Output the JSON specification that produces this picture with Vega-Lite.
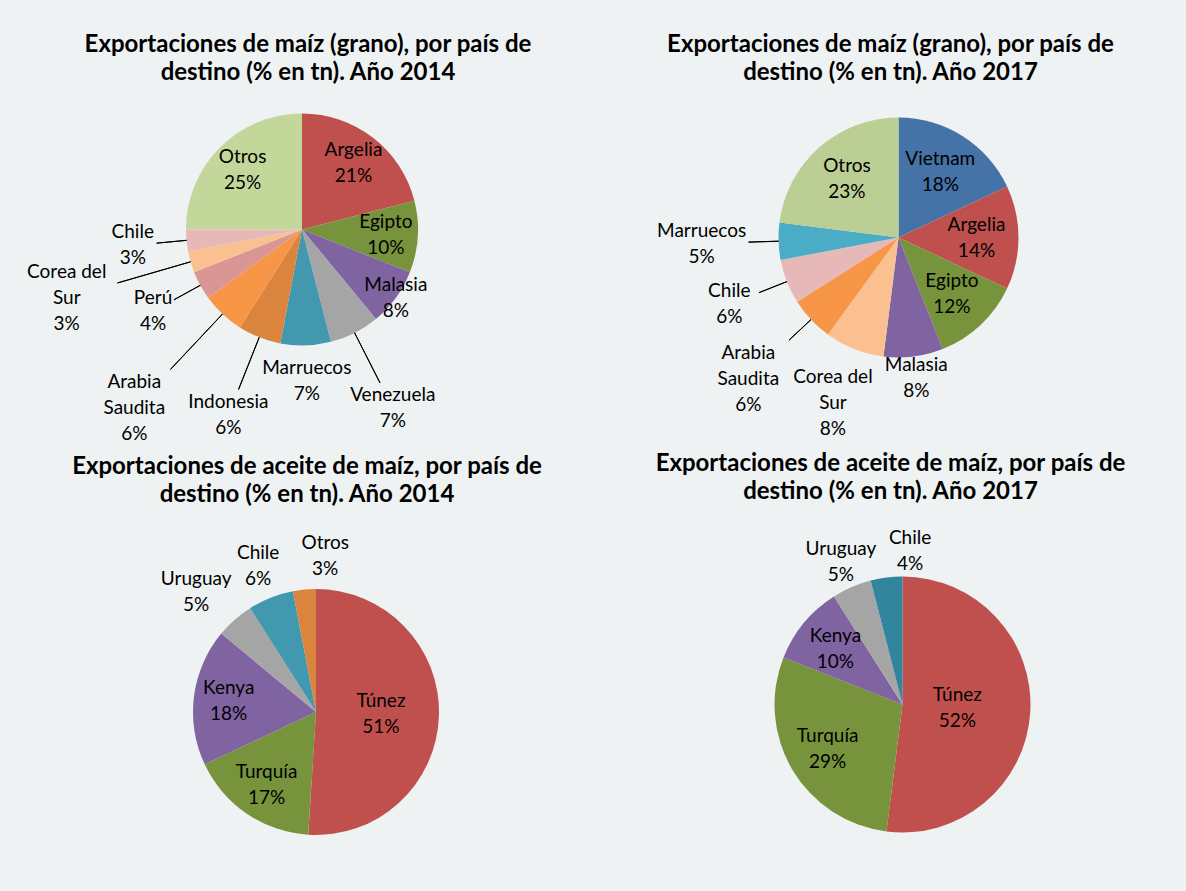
{
  "$schema": "https://vega.github.io/schema/vega-lite/v6.json",
  "background": "#EEF2F3",
  "padding": {"left": 6, "top": 33, "right": 7, "bottom": 15},
  "bounds": "flush",
  "columns": 2,
  "spacing": {"row": 158, "column": 0},
  "config": {"view": {"stroke": null}, "text": {"font": "Lato", "fontSize": 19, "lineHeight": 26, "lineBreak": "\n", "align": "center", "baseline": "middle", "color": "#000"}},
  "resolve": {"scale": {"color": "independent", "theta": "independent"}},
  "datasets": {
    "g14": [
      {"pais": "Argelia", "pct": 21},
      {"pais": "Egipto", "pct": 10},
      {"pais": "Malasia", "pct": 8},
      {"pais": "Venezuela", "pct": 7},
      {"pais": "Marruecos", "pct": 7},
      {"pais": "Indonesia", "pct": 6},
      {"pais": "Arabia Saudita", "pct": 6},
      {"pais": "Perú", "pct": 4},
      {"pais": "Corea del Sur", "pct": 3},
      {"pais": "Chile", "pct": 3},
      {"pais": "Otros", "pct": 25}
    ],
    "g17": [
      {"pais": "Vietnam", "pct": 18},
      {"pais": "Argelia", "pct": 14},
      {"pais": "Egipto", "pct": 12},
      {"pais": "Malasia", "pct": 8},
      {"pais": "Corea del Sur", "pct": 8},
      {"pais": "Arabia Saudita", "pct": 6},
      {"pais": "Chile", "pct": 6},
      {"pais": "Marruecos", "pct": 5},
      {"pais": "Otros", "pct": 23}
    ],
    "a14": [
      {"pais": "Túnez", "pct": 51},
      {"pais": "Turquía", "pct": 17},
      {"pais": "Kenya", "pct": 18},
      {"pais": "Uruguay", "pct": 5},
      {"pais": "Chile", "pct": 6},
      {"pais": "Otros", "pct": 3}
    ],
    "a17": [
      {"pais": "Túnez", "pct": 52},
      {"pais": "Turquía", "pct": 29},
      {"pais": "Kenya", "pct": 10},
      {"pais": "Uruguay", "pct": 5},
      {"pais": "Chile", "pct": 4}
    ]
  },
  "concat": [
    {
      "title": {"text": ["Exportaciones de maíz (grano), por país de", "destino (% en tn). Año 2014"], "font": "Lato", "fontSize": 24, "fontWeight": "bold", "lineHeight": 28, "color": "#000", "anchor": "middle", "offset": 16, "dx": 6},
      "width": 592, "height": 257,
      "data": {"name": "g14"},
      "transform": [
        {"window": [{"op": "sum", "field": "pct", "as": "fin"}], "frame": [null, 0]},
        {"calculate": "datum.fin - datum.pct", "as": "ini"},
        {"calculate": "datum.fin - datum.pct / 2", "as": "mid"},
        {"calculate": "datum.mid + 0.02", "as": "mid2"},
        {"calculate": "replace(replace(datum.pais, 'Corea del Sur', 'Corea del\\nSur'), 'Arabia Saudita', 'Arabia\\nSaudita') + '\\n' + datum.pct + '%'", "as": "etiqueta"}
      ],
      "layer": [
        {"mark": {"type": "arc", "radius": 116},
         "encoding": {"theta": {"field": "ini", "type": "quantitative", "stack": null, "scale": {"domain": [0, 100]}}, "theta2": {"field": "fin"},
           "color": {"field": "pais", "type": "nominal", "legend": null, "scale": {"domain": ["Argelia", "Egipto", "Malasia", "Venezuela", "Marruecos", "Indonesia", "Arabia Saudita", "Perú", "Corea del Sur", "Chile", "Otros"], "range": ["#C0504D", "#77933C", "#8064A2", "#A5A5A5", "#4198AF", "#DB843D", "#F79646", "#D99694", "#FAC090", "#E6B9B8", "#C4D79B"]}}}},
        {"transform": [{"filter": {"field": "pais", "oneOf": ["Perú", "Chile"]}}],
         "mark": {"type": "arc", "radius": 146, "radius2": 116, "filled": false, "color": "#000", "stroke": "#000", "strokeWidth": 1},
         "encoding": {"theta": {"field": "mid", "type": "quantitative", "scale": {"domain": [0, 100]}}, "theta2": {"field": "mid2"}}},
        {"transform": [{"filter": {"field": "pais", "oneOf": ["Indonesia", "Venezuela"]}}],
         "mark": {"type": "arc", "radius": 172, "radius2": 116, "filled": false, "color": "#000", "stroke": "#000", "strokeWidth": 1},
         "encoding": {"theta": {"field": "mid", "type": "quantitative", "scale": {"domain": [0, 100]}}, "theta2": {"field": "mid2"}}},
        {"transform": [{"filter": {"field": "pais", "oneOf": ["Arabia Saudita", "Corea del Sur"]}}],
         "mark": {"type": "arc", "radius": 192, "radius2": 116, "filled": false, "color": "#000", "stroke": "#000", "strokeWidth": 1},
         "encoding": {"theta": {"field": "mid", "type": "quantitative", "scale": {"domain": [0, 100]}}, "theta2": {"field": "mid2"}}},
        {"transform": [{"filter": {"field": "pais", "oneOf": ["Otros", "Argelia", "Egipto"]}}],
         "mark": {"type": "text", "radius": 84, "dy": -13},
         "encoding": {"theta": {"field": "mid", "type": "quantitative", "scale": {"domain": [0, 100]}}, "text": {"field": "etiqueta", "type": "nominal"}}},
        {"transform": [{"filter": {"field": "pais", "oneOf": ["Malasia"]}}],
         "mark": {"type": "text", "radius": 116, "dy": -13},
         "encoding": {"theta": {"field": "mid", "type": "quantitative", "scale": {"domain": [0, 100]}}, "text": {"field": "etiqueta", "type": "nominal"}}},
        {"transform": [{"filter": {"field": "pais", "oneOf": ["Marruecos"]}}],
         "mark": {"type": "text", "radius": 152, "dy": -13},
         "encoding": {"theta": {"field": "mid", "type": "quantitative", "scale": {"domain": [0, 100]}}, "text": {"field": "etiqueta", "type": "nominal"}}},
        {"transform": [{"filter": {"field": "pais", "oneOf": ["Perú", "Chile"]}}],
         "mark": {"type": "text", "radius": 170, "dy": -13},
         "encoding": {"theta": {"field": "mid", "type": "quantitative", "scale": {"domain": [0, 100]}}, "text": {"field": "etiqueta", "type": "nominal"}}},
        {"transform": [{"filter": {"field": "pais", "oneOf": ["Indonesia", "Venezuela"]}}],
         "mark": {"type": "text", "radius": 200, "dy": -13},
         "encoding": {"theta": {"field": "mid", "type": "quantitative", "scale": {"domain": [0, 100]}}, "text": {"field": "etiqueta", "type": "nominal"}}},
        {"transform": [{"filter": {"field": "pais", "oneOf": ["Arabia Saudita", "Corea del Sur"]}}],
         "mark": {"type": "text", "radius": 245, "dy": -26},
         "encoding": {"theta": {"field": "mid", "type": "quantitative", "scale": {"domain": [0, 100]}}, "text": {"field": "etiqueta", "type": "nominal"}}}
      ]
    },
    {
      "title": {"text": ["Exportaciones de maíz (grano), por país de", "destino (% en tn). Año 2017"], "font": "Lato", "fontSize": 24, "fontWeight": "bold", "lineHeight": 28, "color": "#000", "anchor": "middle", "offset": 16, "dx": -8},
      "width": 545, "height": 273,
      "data": {"name": "g17"},
      "transform": [
        {"window": [{"op": "sum", "field": "pct", "as": "fin"}], "frame": [null, 0]},
        {"calculate": "datum.fin - datum.pct", "as": "ini"},
        {"calculate": "datum.fin - datum.pct / 2", "as": "mid"},
        {"calculate": "datum.mid + 0.02", "as": "mid2"},
        {"calculate": "replace(replace(datum.pais, 'Corea del Sur', 'Corea del\\nSur'), 'Arabia Saudita', 'Arabia\\nSaudita') + '\\n' + datum.pct + '%'", "as": "etiqueta"}
      ],
      "layer": [
        {"mark": {"type": "arc", "radius": 120},
         "encoding": {"theta": {"field": "ini", "type": "quantitative", "stack": null, "scale": {"domain": [0, 100]}}, "theta2": {"field": "fin"},
           "color": {"field": "pais", "type": "nominal", "legend": null, "scale": {"domain": ["Vietnam", "Argelia", "Egipto", "Malasia", "Corea del Sur", "Arabia Saudita", "Chile", "Marruecos", "Otros"], "range": ["#4572A7", "#C0504D", "#77933C", "#8064A2", "#FAC090", "#F79646", "#E6B9B8", "#4BACC6", "#BBCE94"]}}}},
        {"transform": [{"filter": {"field": "pais", "oneOf": ["Marruecos", "Chile", "Arabia Saudita"]}}],
         "mark": {"type": "arc", "radius": 150, "radius2": 120, "filled": false, "color": "#000", "stroke": "#000", "strokeWidth": 1},
         "encoding": {"theta": {"field": "mid", "type": "quantitative", "scale": {"domain": [0, 100]}}, "theta2": {"field": "mid2"}}},
        {"transform": [{"filter": {"field": "pais", "oneOf": ["Vietnam", "Argelia", "Egipto", "Otros"]}}],
         "mark": {"type": "text", "radius": 78, "dy": -13},
         "encoding": {"theta": {"field": "mid", "type": "quantitative", "scale": {"domain": [0, 100]}}, "text": {"field": "etiqueta", "type": "nominal"}}},
        {"transform": [{"filter": {"field": "pais", "oneOf": ["Malasia"]}}],
         "mark": {"type": "text", "radius": 142, "dy": -13},
         "encoding": {"theta": {"field": "mid", "type": "quantitative", "scale": {"domain": [0, 100]}}, "text": {"field": "etiqueta", "type": "nominal"}}},
        {"transform": [{"filter": {"field": "pais", "oneOf": ["Chile"]}}],
         "mark": {"type": "text", "radius": 182, "dy": -13},
         "encoding": {"theta": {"field": "mid", "type": "quantitative", "scale": {"domain": [0, 100]}}, "text": {"field": "etiqueta", "type": "nominal"}}},
        {"transform": [{"filter": {"field": "pais", "oneOf": ["Corea del Sur"]}}],
         "mark": {"type": "text", "radius": 178, "dy": -26},
         "encoding": {"theta": {"field": "mid", "type": "quantitative", "scale": {"domain": [0, 100]}}, "text": {"field": "etiqueta", "type": "nominal"}}},
        {"transform": [{"filter": {"field": "pais", "oneOf": ["Marruecos"]}}],
         "mark": {"type": "text", "radius": 197, "dy": -13},
         "encoding": {"theta": {"field": "mid", "type": "quantitative", "scale": {"domain": [0, 100]}}, "text": {"field": "etiqueta", "type": "nominal"}}},
        {"transform": [{"filter": {"field": "pais", "oneOf": ["Arabia Saudita"]}}],
         "mark": {"type": "text", "radius": 206, "dy": -26},
         "encoding": {"theta": {"field": "mid", "type": "quantitative", "scale": {"domain": [0, 100]}}, "text": {"field": "etiqueta", "type": "nominal"}}}
      ]
    },
    {
      "title": {"text": ["Exportaciones de aceite de maíz, por país de", "destino (% en tn). Año 2014"], "font": "Lato", "fontSize": 24, "fontWeight": "bold", "lineHeight": 28, "color": "#000", "anchor": "middle", "offset": 25, "dx": -9},
      "width": 620, "height": 360,
      "data": {"name": "a14"},
      "transform": [
        {"window": [{"op": "sum", "field": "pct", "as": "fin"}], "frame": [null, 0]},
        {"calculate": "datum.fin - datum.pct", "as": "ini"},
        {"calculate": "datum.fin - datum.pct / 2", "as": "mid"},
        {"calculate": "datum.pais + '\\n' + datum.pct + '%'", "as": "etiqueta"}
      ],
      "layer": [
        {"mark": {"type": "arc", "radius": 123},
         "encoding": {"theta": {"field": "ini", "type": "quantitative", "stack": null, "scale": {"domain": [0, 100]}}, "theta2": {"field": "fin"},
           "color": {"field": "pais", "type": "nominal", "legend": null, "scale": {"domain": ["Túnez", "Turquía", "Kenya", "Uruguay", "Chile", "Otros"], "range": ["#C0504D", "#77933C", "#8064A2", "#A5A5A5", "#4198AF", "#DB843D"]}}}},
        {"transform": [{"filter": {"field": "pais", "oneOf": ["Túnez"]}}],
         "mark": {"type": "text", "radius": 65, "dy": -13},
         "encoding": {"theta": {"field": "mid", "type": "quantitative", "scale": {"domain": [0, 100]}}, "text": {"field": "etiqueta", "type": "nominal"}}},
        {"transform": [{"filter": {"field": "pais", "oneOf": ["Turquía", "Kenya"]}}],
         "mark": {"type": "text", "radius": 88, "dy": -13},
         "encoding": {"theta": {"field": "mid", "type": "quantitative", "scale": {"domain": [0, 100]}}, "text": {"field": "etiqueta", "type": "nominal"}}},
        {"transform": [{"filter": {"field": "pais", "oneOf": ["Uruguay"]}}],
         "mark": {"type": "text", "radius": 160, "dx": -14, "dy": -13},
         "encoding": {"theta": {"field": "mid", "type": "quantitative", "scale": {"domain": [0, 100]}}, "text": {"field": "etiqueta", "type": "nominal"}}},
        {"transform": [{"filter": {"field": "pais", "oneOf": ["Chile"]}}],
         "mark": {"type": "text", "radius": 157, "dy": -13},
         "encoding": {"theta": {"field": "mid", "type": "quantitative", "scale": {"domain": [0, 100]}}, "text": {"field": "etiqueta", "type": "nominal"}}},
        {"transform": [{"filter": {"field": "pais", "oneOf": ["Otros"]}}],
         "mark": {"type": "text", "radius": 157, "dx": 24, "dy": -13},
         "encoding": {"theta": {"field": "mid", "type": "quantitative", "scale": {"domain": [0, 100]}}, "text": {"field": "etiqueta", "type": "nominal"}}}
      ]
    },
    {
      "title": {"text": ["Exportaciones de aceite de maíz, por país de", "destino (% en tn). Año 2017"], "font": "Lato", "fontSize": 24, "fontWeight": "bold", "lineHeight": 28, "color": "#000", "anchor": "middle", "offset": 25, "dx": -12},
      "width": 553, "height": 345,
      "data": {"name": "a17"},
      "transform": [
        {"window": [{"op": "sum", "field": "pct", "as": "fin"}], "frame": [null, 0]},
        {"calculate": "datum.fin - datum.pct", "as": "ini"},
        {"calculate": "datum.fin - datum.pct / 2", "as": "mid"},
        {"calculate": "datum.pais + '\\n' + datum.pct + '%'", "as": "etiqueta"}
      ],
      "layer": [
        {"mark": {"type": "arc", "radius": 128},
         "encoding": {"theta": {"field": "ini", "type": "quantitative", "stack": null, "scale": {"domain": [0, 100]}}, "theta2": {"field": "fin"},
           "color": {"field": "pais", "type": "nominal", "legend": null, "scale": {"domain": ["Túnez", "Turquía", "Kenya", "Uruguay", "Chile"], "range": ["#C0504D", "#77933C", "#8064A2", "#A5A5A5", "#31859C"]}}}},
        {"transform": [{"filter": {"field": "pais", "oneOf": ["Túnez"]}}],
         "mark": {"type": "text", "radius": 55, "dy": -13},
         "encoding": {"theta": {"field": "mid", "type": "quantitative", "scale": {"domain": [0, 100]}}, "text": {"field": "etiqueta", "type": "nominal"}}},
        {"transform": [{"filter": {"field": "pais", "oneOf": ["Turquía", "Kenya"]}}],
         "mark": {"type": "text", "radius": 87, "dy": -13},
         "encoding": {"theta": {"field": "mid", "type": "quantitative", "scale": {"domain": [0, 100]}}, "text": {"field": "etiqueta", "type": "nominal"}}},
        {"transform": [{"filter": {"field": "pais", "oneOf": ["Uruguay"]}}],
         "mark": {"type": "text", "radius": 155, "dy": -13},
         "encoding": {"theta": {"field": "mid", "type": "quantitative", "scale": {"domain": [0, 100]}}, "text": {"field": "etiqueta", "type": "nominal"}}},
        {"transform": [{"filter": {"field": "pais", "oneOf": ["Chile"]}}],
         "mark": {"type": "text", "radius": 155, "dx": 27, "dy": -13},
         "encoding": {"theta": {"field": "mid", "type": "quantitative", "scale": {"domain": [0, 100]}}, "text": {"field": "etiqueta", "type": "nominal"}}}
      ]
    }
  ]
}
